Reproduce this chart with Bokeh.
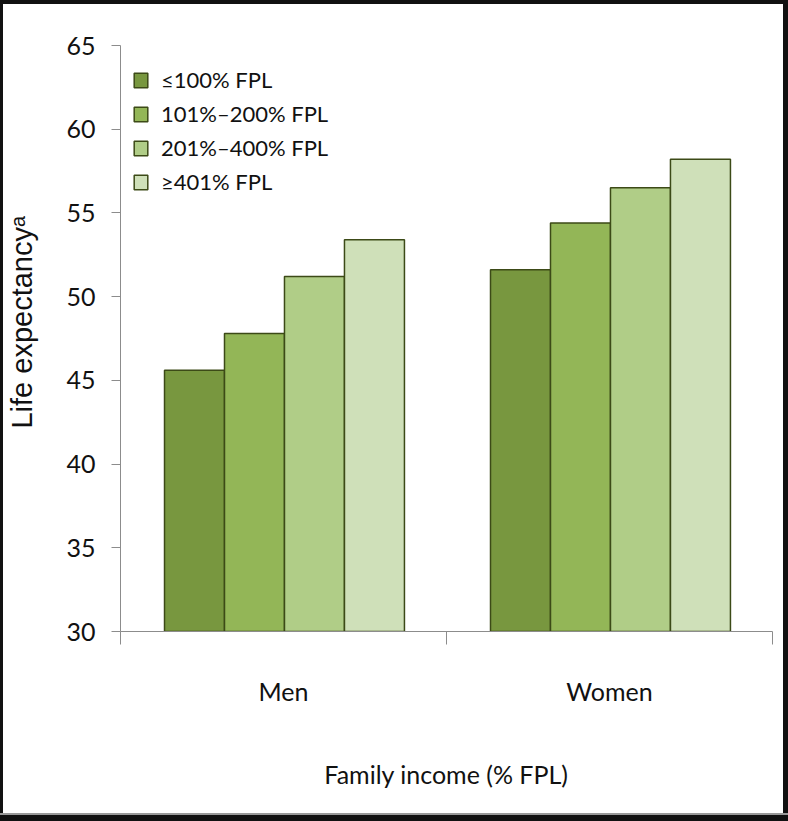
from bokeh.plotting import figure
from bokeh.models import (Range1d, FixedTicker, ColumnDataSource, Legend, LegendItem, Div)
from bokeh.layouts import column, row
from bokeh.transform import dodge
from bokeh.embed import file_html
from bokeh.resources import INLINE

groups = ["Men", "Women"]
series = ["\u2264100% FPL", "101%\u2013200% FPL", "201%\u2013400% FPL", "\u2265401% FPL"]
le_100 = [45.6, 51.6]
le_101_200 = [47.8, 54.4]
le_201_400 = [51.2, 56.5]
le_401 = [53.4, 58.2]
y_ticks = [30, 35, 40, 45, 50, 55, 60, 65]

colors = ["#78973f", "#93b657", "#b0cd87", "#cfe0b9"]
FONT = "Lato"

p = figure(width=780, height=809, output_backend="svg", toolbar_location=None,
           x_range=Range1d(0, 2), y_range=Range1d(30, 65),
           min_border_left=116, min_border_right=11, min_border_top=41, min_border_bottom=182)
p.background_fill_color = "white"
p.border_fill_color = "white"
p.outline_line_color = None
p.xgrid.visible = False
p.ygrid.visible = False

src = ColumnDataSource(dict(x=[i + 0.503 for i in range(len(groups))],
                            s0=le_100, s1=le_101_200, s2=le_201_400, s3=le_401))
bw = 0.184
items = []
for i, (name, col) in enumerate(zip(series, colors)):
    r = p.vbar(x=dodge("x", (i - 1.5) * bw, range=p.x_range), top="s%d" % i, bottom=30,
               width=bw, source=src, fill_color=col, line_color="#3c4a17", line_width=1.5)
    items.append(LegendItem(label=name, renderers=[r]))

legend = Legend(items=items, location=(12, 436), padding=0, margin=0, spacing=7,
                glyph_width=17, glyph_height=18, label_standoff=12,
                label_text_font=FONT, label_text_font_size="22px", label_text_color="#111111",
                border_line_color=None, background_fill_alpha=0)
p.add_layout(legend)

# y axis
ya = p.yaxis[0]
ya.ticker = FixedTicker(ticks=y_ticks)
ya.minor_tick_line_color = None
ya.major_tick_out = 9
ya.major_tick_in = 0
ya.axis_line_color = "#8c8c8c"
ya.major_tick_line_color = "#8c8c8c"
ya.major_label_text_font = FONT
ya.major_label_text_font_size = "25px"
ya.major_label_text_color = "#111111"
ya.major_label_standoff = 16
ya.axis_label = "\u00a0\u00a0\u00a0\u00a0Life expectancy\u1d43"
ya.axis_label_text_font = "Liberation Sans"
ya.axis_label_text_font_style = "normal"
ya.axis_label_text_font_size = "29px"
ya.axis_label_text_color = "#111111"
ya.axis_label_standoff = 25

# x axis
xa = p.xaxis[0]
xa.ticker = FixedTicker(ticks=[0.5, 1.5], minor_ticks=[0, 1, 2])
xa.major_label_overrides = {0.5: groups[0], 1.5: groups[1]}
xa.major_tick_line_color = None
xa.major_tick_out = 0
xa.major_tick_in = 0
xa.minor_tick_out = 13
xa.minor_tick_in = 0
xa.minor_tick_line_color = "#8c8c8c"
xa.axis_line_color = "#8c8c8c"
xa.major_label_text_font = FONT
xa.major_label_text_font_size = "25px"
xa.major_label_text_color = "#111111"
xa.major_label_standoff = 31
xa.axis_label = "Family income (% FPL)"
xa.axis_label_text_font = FONT
xa.axis_label_text_font_style = "normal"
xa.axis_label_text_font_size = "25px"
xa.axis_label_text_color = "#111111"
xa.axis_label_standoff = 50

black = {"background-color": "#111111"}
top_bar = Div(text="", width=788, height=4, margin=0, styles=black)
left_bar = Div(text="", width=3, height=809, margin=0, styles=black)
right_bar = Div(text="", width=5, height=809, margin=0, styles=black)
bottom_bar = Div(text="", width=788, height=8, margin=0,
                 styles={"background-color": "#111111", "box-sizing": "border-box",
                         "border-top": "2px solid #999999"})

layout = column(top_bar, row(left_bar, p, right_bar, spacing=0), bottom_bar, spacing=0)
open("out.html", "w").write(file_html(layout, INLINE))
